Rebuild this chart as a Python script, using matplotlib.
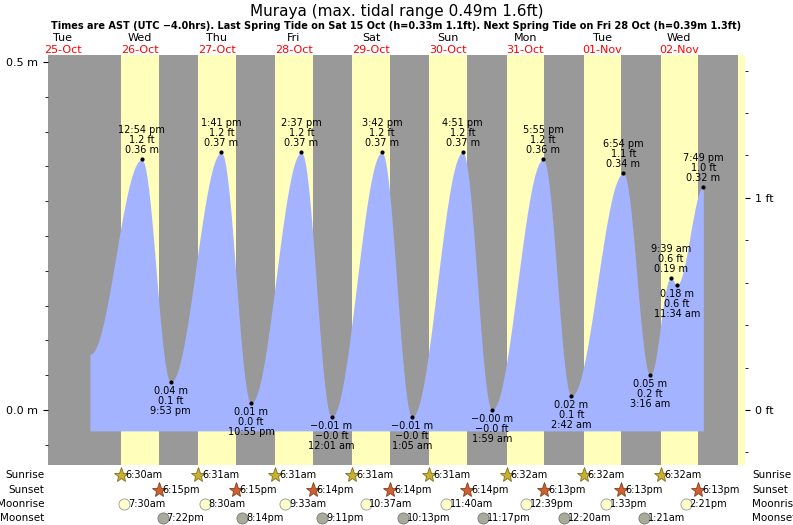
import numpy as np
import matplotlib
matplotlib.use('Agg')
import matplotlib.pyplot as plt

# times in hours from 25-Oct 00:00
def t(day, h, m, pm=False):
    if pm and h != 12: h += 12
    if not pm and h == 12: h = 0
    return (day - 25) * 24 + h + m / 60.0

# tide extremes (m)
ext_time = [t(25,20,45), t(26,12,54,1), t(26,9,53,1), t(27,1,41,1), t(27,10,55,1), t(28,2,37,1),
            t(29,12,1), t(29,3,42,1), t(30,1,5), t(30,4,51,1), t(31,1,59), t(31,5,55,1),
            t(32,2,42), t(32,6,54,1), t(33,3,16), t(33,9,39), t(33,11,34), t(33,7,49,1)]
ext_m = [0.08, 0.36, 0.04, 0.37, 0.01, 0.37, -0.01, 0.37, -0.01, 0.37, -0.00, 0.36,
         0.02, 0.34, 0.05, 0.19, 0.18, 0.32]
ext_ft = [None, '1.2', '0.1', '1.2', '0.0', '1.2', '\u22120.0', '1.2', '\u22120.0', '1.2', '\u22120.0', '1.2',
          '0.1', '1.1', '0.2', '0.6', '0.6', '1.0']
ext_lbl = [None, '12:54 pm', '9:53 pm', '1:41 pm', '10:55 pm', '2:37 pm', '12:01 am', '3:42 pm', '1:05 am',
           '4:51 pm', '1:59 am', '5:55 pm', '2:42 am', '6:54 pm', '3:16 am', '9:39 am', '11:34 am', '7:49 pm']
ext_mtxt = [None, '0.36', '0.04', '0.37', '0.01', '0.37', '\u22120.01', '0.37', '\u22120.01', '0.37', '\u22120.00',
            '0.36', '0.02', '0.34', '0.05', '0.19', '0.18', '0.32']

day_names = ['Tue', 'Wed', 'Thu', 'Fri', 'Sat', 'Sun', 'Mon', 'Tue', 'Wed']
day_dates = ['25-Oct', '26-Oct', '27-Oct', '28-Oct', '29-Oct', '30-Oct', '31-Oct', '01-Nov', '02-Nov']

sunrise = ['6:30am', '6:31am', '6:31am', '6:31am', '6:31am', '6:32am', '6:32am', '6:32am']
sunset = ['6:15pm', '6:15pm', '6:14pm', '6:14pm', '6:14pm', '6:13pm', '6:13pm', '6:13pm']
moonrise = ['7:30am', '8:30am', '9:33am', '10:37am', '11:40am', '12:39pm', '1:33pm', '2:21pm']
moonset = ['7:22pm', '8:14pm', '9:11pm', '10:13pm', '11:17pm', '12:20am', '1:21am']
moonset_day = [26, 27, 28, 29, 30, 32, 33]

def parse(s, day):
    h, m = s[:-2].split(':')
    return t(day, int(h), int(m), s.endswith('pm'))

# cosine interpolation between extremes for the curve
xs, ys = [], []
for i in range(len(ext_time) - 1):
    s = np.linspace(0, 1, 60)
    xs.append(ext_time[i] + s * (ext_time[i+1] - ext_time[i]))
    ys.append(ext_m[i] + (ext_m[i+1] - ext_m[i]) * (1 - np.cos(np.pi * s)) / 2)
xs = np.concatenate(xs); ys = np.concatenate(ys)

fig = plt.figure(figsize=(7.93, 5.25), dpi=100)
ax = fig.add_axes([48/793, 60/525, 697/793, 410/525])
x0, x1 = 7.7, 224.8
ax.set_xlim(x0, x1)
ax.set_ylim(-0.079, 0.51)
ax.axvspan(x0, x1, color='#999999', lw=0)
for k in range(8):
    d = 26 + k
    ax.axvspan(parse(sunrise[k], d), parse(sunset[k], d), color='#ffffbb', lw=0)
ax.axvspan(t(34, 6, 32), x1, color='#ffffbb', lw=0)
ax.fill_between(xs, -0.03, ys, color='#a3b3ff', lw=0)

for i in range(1, len(ext_time)):
    x, y = ext_time[i], ext_m[i]
    ax.plot(x, y, 'k.', ms=4)
    high = i % 2 == 1 and i != 16
    if high:
        txt = f"{ext_lbl[i]}\n{ext_ft[i]} ft\n{ext_mtxt[i]} m"
        ax.text(x, y + 0.006, txt, ha='center', va='bottom', fontsize=7, linespacing=1.0)
    else:
        txt = f"{ext_mtxt[i]} m\n{ext_ft[i]} ft\n{ext_lbl[i]}"
        ax.text(x, y - 0.006, txt, ha='center', va='top', fontsize=7, linespacing=1.0)

ax.set_yticks([0.0, 0.5])
ax.set_yticklabels(['0.0 m', '0.5 m'], fontsize=8)
ax.set_yticks(np.arange(-0.05, 0.51, 0.05), minor=True)
ax.set_xticks([])
ax2 = ax.twinx()
ax2.set_ylim(-0.079 / 0.3048, 0.51 / 0.3048)
ax2.set_yticks([0, 1])
ax2.set_yticklabels(['0 ft', '1 ft'], fontsize=8)
ax2.set_yticks(np.arange(-0.2, 1.7, 0.2), minor=True)
for a in (ax, ax2):
    for sp in a.spines.values():
        sp.set_visible(False)

for k in range(9):
    xc = t(25 + k, 12, 20, True)
    ax.text(xc, 1.035, day_names[k], transform=ax.get_xaxis_transform(), ha='center', fontsize=8)
    ax.text(xc, 1.005, day_dates[k], transform=ax.get_xaxis_transform(), ha='center', fontsize=8, color='red')

fig.text(0.5, 0.97, 'Muraya (max. tidal range 0.49m 1.6ft)', ha='center', fontsize=11)
fig.text(0.5, 0.945, 'Times are AST (UTC \u22124.0hrs). Last Spring Tide on Sat 15 Oct (h=0.33m 1.1ft). '
         'Next Spring Tide on Fri 28 Oct (h=0.39m 1.3ft)', ha='center', fontsize=7, fontweight='bold')

# almanac rows
rows = ['Sunrise', 'Sunset', 'Moonrise', 'Moonset']
row_y = [-0.024, -0.060, -0.095, -0.129]
tr = ax.get_xaxis_transform()
for r, yy in zip(rows, row_y):
    fig.text(44/793, yy * 410/525 + 60/525, r, ha='right', va='center', fontsize=7.5)
    fig.text(752/793, yy * 410/525 + 60/525, r, ha='left', va='center', fontsize=7.5)

def item(x, yy, s, marker, fc, ec, ms):
    ax.plot(x, yy, marker=marker, ms=ms, mfc=fc, mec=ec, mew=0.6, transform=tr, clip_on=False)
    ax.text(x + 1.2, yy, s, transform=tr, va='center', ha='left', fontsize=7, clip_on=False)

for k in range(8):
    d = 26 + k
    item(parse(sunrise[k], d), row_y[0], sunrise[k], '*', '#c8b030', '#807020', 11)
    item(parse(sunset[k], d), row_y[1], sunset[k], '*', '#d06030', '#804020', 11)
    item(parse(moonrise[k], d), row_y[2], moonrise[k], 'o', '#ffffcc', '#999999', 8)
for k in range(7):
    item(parse(moonset[k], moonset_day[k]), row_y[3], moonset[k], 'o', '#aaaa99', '#777777', 8)

fig.savefig('out.png', dpi=100)
